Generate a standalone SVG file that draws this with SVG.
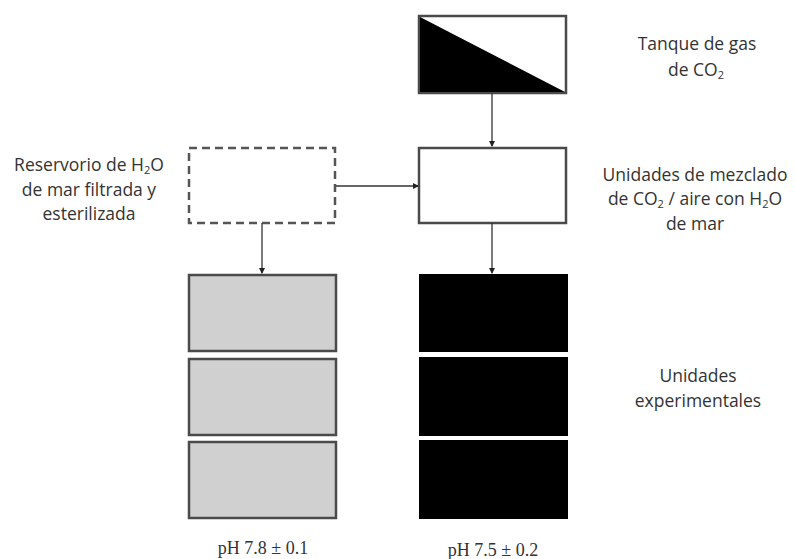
<svg xmlns="http://www.w3.org/2000/svg" width="795" height="559" viewBox="0 0 795 559">
<style>
.lbl{font-family:"Open Sans","Liberation Sans",sans-serif;font-size:17.5px;fill:#333;text-anchor:middle}
.ph{font-family:"Liberation Serif",serif;font-size:18px;fill:#333;text-anchor:middle}
.box{stroke:#4a4a4a;stroke-width:2.5}
.conn{stroke:#333;stroke-width:1.3;fill:none;marker-end:url(#ah)}
</style>
<defs>
<marker id="ah" markerWidth="6" markerHeight="6" refX="5" refY="3" orient="auto" markerUnits="userSpaceOnUse">
<path d="M0,0 L6,3 L0,6 Z" fill="#222"/>
</marker>
</defs>
<rect width="795" height="559" fill="#fff"/>
<g id="tank">
<rect class="box" x="419" y="16" width="147" height="77" fill="#fff"/>
<polygon points="420,17 565,92 420,92" fill="#000"/>
</g>
<g id="mixer">
<rect class="box" x="419" y="148" width="147" height="75" fill="#fff"/>
</g>
<g id="reservoir">
<rect x="189" y="148" width="146" height="75" fill="#fff" stroke="#555" stroke-width="2.5" stroke-dasharray="8,5"/>
</g>
<g id="gray1"><rect class="box" x="189" y="275" width="147" height="76" fill="#d0d0d0"/></g>
<g id="gray2"><rect class="box" x="189" y="359" width="147" height="76" fill="#d0d0d0"/></g>
<g id="gray3"><rect class="box" x="189" y="442" width="147" height="76" fill="#d0d0d0"/></g>
<g id="black1"><rect x="419" y="274" width="149" height="78" fill="#000"/></g>
<g id="black2"><rect x="419" y="357" width="149" height="79" fill="#000"/></g>
<g id="black3"><rect x="419" y="440" width="149" height="79" fill="#000"/></g>
<g id="connectors">
<path class="conn" d="M492,93 L492,146"/>
<path class="conn" d="M336,186 L418,186"/>
<path class="conn" d="M262,223 L262,273"/>
<path class="conn" d="M492,223 L492,273"/>
</g>
<g id="labels">
<text class="lbl" x="697" y="50">Tanque de gas</text>
<text class="lbl" x="696" y="76">de CO<tspan font-size="11" dy="3">2</tspan></text>
<text class="lbl" x="695" y="181">Unidades de mezclado</text>
<text class="lbl" x="695" y="205">de CO<tspan font-size="11" dy="3">2</tspan><tspan dy="-3"> / aire con H</tspan><tspan font-size="11" dy="3">2</tspan><tspan dy="-3">O</tspan></text>
<text class="lbl" x="695" y="230">de mar</text>
<text class="lbl" x="698" y="382">Unidades</text>
<text class="lbl" x="698" y="407">experimentales</text>
<text class="lbl" x="89" y="171">Reservorio de H<tspan font-size="11" dy="3">2</tspan><tspan dy="-3">O</tspan></text>
<text class="lbl" x="89" y="196">de mar filtrada y</text>
<text class="lbl" x="89" y="220">esterilizada</text>
<text class="ph" x="263" y="554">pH 7.8 ± 0.1</text>
<text class="ph" x="493" y="556">pH 7.5 ± 0.2</text>
</g>
</svg>
